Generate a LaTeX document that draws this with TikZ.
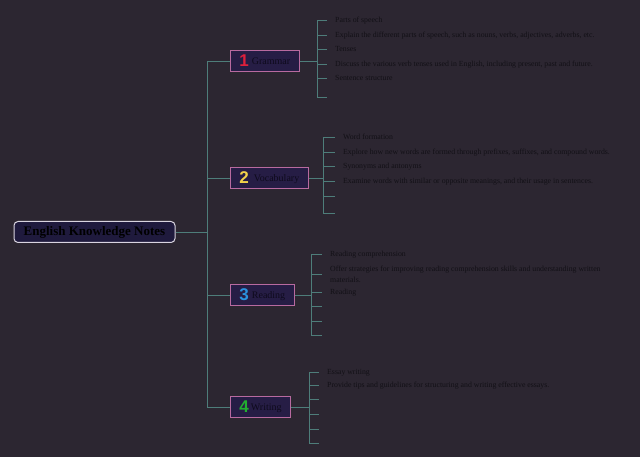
\documentclass[tikz,border=0pt]{standalone}
\usepackage{fontspec}
\setmainfont{Liberation Serif}
\newfontfamily\numfont{Liberation Sans}
\definecolor{bgc}{HTML}{2C2631}
\definecolor{connc}{HTML}{4E7D7A}
\definecolor{boxline}{HTML}{B86AA0}
\definecolor{boxfill}{HTML}{261D45}
\definecolor{rootfill}{HTML}{1F1A3D}
\definecolor{rootline}{HTML}{D9D4E0}
\definecolor{leaftext}{HTML}{121016}
\definecolor{brtext}{HTML}{0E0A1C}
\definecolor{numA}{HTML}{E0203C}
\definecolor{numB}{HTML}{F2D24A}
\definecolor{numC}{HTML}{2A92E0}
\definecolor{numD}{HTML}{22B030}
\newcommand{\brnum}[2]{{\numfont\bfseries\fontsize{17}{17}\selectfont\color{#1}#2}}
\newcommand{\brlab}[1]{\raisebox{2pt}{#1}}
\tikzset{
  conn/.style={draw=connc, line width=0.9pt},
  rootbox/.style={draw=rootline, fill=rootfill, line width=1pt, rounded corners=4pt,
    minimum width=161pt, minimum height=21pt, inner sep=0pt, text=black,
    font=\fontsize{13}{13}\selectfont\bfseries},
  brbox/.style={draw=boxline, fill=boxfill, line width=0.9pt, anchor=west,
    minimum height=21pt, inner xsep=9pt, inner ysep=0pt, text=brtext,
    font=\fontsize{10}{10}\selectfont},
  leafbase/.style={anchor=west, inner xsep=8pt, inner ysep=0pt, text=leaftext,
    font=\fontsize{7.8}{11}\selectfont},
  leaf/.style={leafbase, text height=4.6pt, text depth=0pt},
  leafmulti/.style={leafbase, align=left}
}
\begin{document}
\begin{tikzpicture}[x=1pt,y=-1pt]
\fill[bgc] (0,0) rectangle (640,457);
\useasboundingbox (0,0) rectangle (640,457);

\node[rootbox] (root) at (94.5,232) {English Knowledge Notes};
\coordinate (t) at (207,232);

% branches
\node[brbox] (g) at (230,61) {\brnum{numA}{1}\hspace{3pt}\brlab{Grammar}};
\node[brbox] (v) at (230,178) {\brnum{numB}{2}\hspace{5pt}\brlab{Vocabulary}};
\node[brbox] (r) at (230,295) {\brnum{numC}{3}\hspace{3pt}\brlab{Reading}};
\node[brbox] (w) at (230,407) {\brnum{numD}{4}\hspace{2pt}\brlab{Writing}};

\draw[conn] (root.east) -- (t);
\foreach \b in {g,v,r,w} \draw[conn] (t) |- (\b.west);

% Grammar leaves
\coordinate (gb) at (317,61);
\node[leaf] (g1) at (327,20) {Parts of speech};
\node[leaf] (g2) at (327,35) {Explain the different parts of speech, such as nouns, verbs, adjectives, adverbs, etc.};
\node[leaf] (g3) at (327,49) {Tenses};
\node[leaf] (g4) at (327,64) {Discuss the various verb tenses used in English, including present, past and future.};
\node[leaf] (g5) at (327,78) {Sentence structure};
\node[leaf] (g6) at (327,97) {};
\draw[conn] (g.east) -- (gb);
\foreach \l in {g1,g2,g3,g4,g5,g6} \draw[conn] (gb) |- (\l.west);

% Vocabulary leaves
\coordinate (vb) at (323,178);
\node[leaf] (v1) at (335,137) {Word formation};
\node[leaf] (v2) at (335,152) {Explore how new words are formed through prefixes, suffixes, and compound words.};
\node[leaf] (v3) at (335,166) {Synonyms and antonyms};
\node[leaf] (v4) at (335,181) {Examine words with similar or opposite meanings, and their usage in sentences.};
\node[leaf] (v5) at (335,196) {};
\node[leaf] (v6) at (335,213) {};
\draw[conn] (v.east) -- (vb);
\foreach \l in {v1,v2,v3,v4,v5,v6} \draw[conn] (vb) |- (\l.west);

% Reading leaves
\coordinate (rb) at (311,295);
\node[leaf] (r1) at (322,254) {Reading comprehension};
\node[leafmulti] (r2) at (322,274) {Offer strategies for improving reading comprehension skills and understanding written\\materials.};
\node[leaf] (r3) at (322,292) {Reading};
\node[leaf] (r4) at (322,306) {};
\node[leaf] (r5) at (322,321) {};
\node[leaf] (r6) at (322,335) {};
\draw[conn] (r.east) -- (rb);
\foreach \l in {r1,r2,r3,r4,r5,r6} \draw[conn] (rb) |- (\l.west);

% Writing leaves
\coordinate (wb) at (309,407);
\node[leaf] (w1) at (319,372) {Essay writing};
\node[leaf] (w2) at (319,385) {Provide tips and guidelines for structuring and writing effective essays.};
\node[leaf] (w3) at (319,399) {};
\node[leaf] (w4) at (319,414) {};
\node[leaf] (w5) at (319,429) {};
\node[leaf] (w6) at (319,443) {};
\draw[conn] (w.east) -- (wb);
\foreach \l in {w1,w2,w3,w4,w5,w6} \draw[conn] (wb) |- (\l.west);
\end{tikzpicture}
\end{document}
